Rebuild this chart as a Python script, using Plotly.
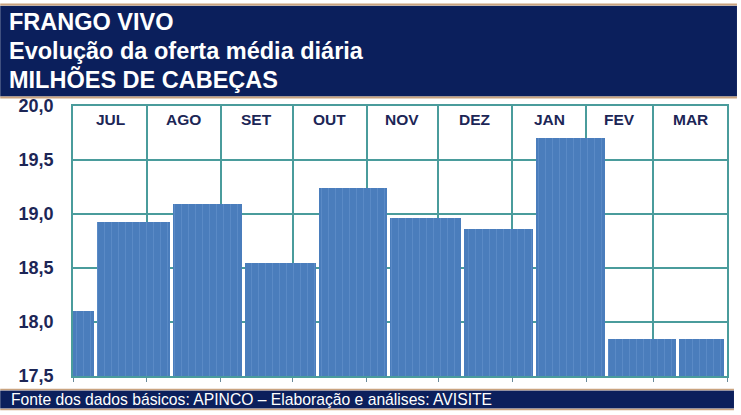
import pandas as pd
import plotly.graph_objects as go

# ---- data ----
months = ["JUL", "AGO", "SET", "OUT", "NOV", "DEZ", "JAN", "FEV", "MAR"]
month_starts = ["2012-07-01", "2012-08-01", "2012-09-01", "2012-10-01", "2012-11-01",
                "2012-12-01", "2013-01-01", "2013-02-01", "2013-03-01", "2013-04-01"]
block_starts = ["2012-07-01", "2012-07-11", "2012-08-12", "2012-09-11", "2012-10-12",
                "2012-11-11", "2012-12-12", "2013-01-11", "2013-02-10", "2013-03-12"]
block_ends = block_starts[1:] + ["2013-04-01"]
block_values = [18.10, 18.93, 19.09, 18.55, 19.24, 18.96, 18.86, 19.70, 17.84, 17.84]
y_ticks = [17.5, 18.0, 18.5, 19.0, 19.5, 20.0]
y_ticktext = ["17,5", "18,0", "18,5", "19,0", "19,5", "20,0"]

title_lines = ["FRANGO VIVO", "Evolução da oferta média diária", "MILHÕES DE CABEÇAS"]
footer_text = "Fonte dos dados básicos: APINCO – Elaboração e análises: AVISITE"

# ---- geometry helpers ----
W, H = 741, 415
L, R, T, B = 73, 12, 105.5, 38.5
PW, PH = W - L - R, H - T - B

def px(xp):
    return (xp - L) / PW

def py(yp):
    return (H - B - yp) / PH

NAVY = "#0b1f5c"
TEAL = "#4a9c9c"
TAN = "#c9a37f"
BAR = "#4a7dbc"
TXT = "#1c2656"

starts = pd.to_datetime(block_starts)
ends = pd.to_datetime(block_ends)
gap_ms = 1.25 * 86400000
durs = [(e - s).total_seconds() * 1000 for s, e in zip(starts, ends)]
widths = [d - gap_ms for d in durs]

fig = go.Figure()
fig.add_trace(go.Bar(
    x=starts, y=block_values, base=0, offset=0, width=widths,
    marker=dict(color=BAR, line=dict(width=0),
                pattern=dict(shape="|", size=7, solidity=0.15,
                             fgcolor="#5a8ac6", bgcolor=BAR, fillmode="replace")),
    hoverinfo="skip",
))

ms = pd.to_datetime(month_starts)
anns = []
for i, m in enumerate(months):
    mid = ms[i] + (ms[i + 1] - ms[i]) / 2
    anns.append(dict(x=mid, y=19.875, xref="x", yref="y", text="<b>" + m + "</b>", showarrow=False,
                     font=dict(family="Liberation Sans", size=15.5, color=TXT),
                     xanchor="center", yanchor="middle"))

for i, t in enumerate(title_lines):
    anns.append(dict(x=px(7), y=py([21, 50, 79][i]), xref="paper", yref="paper",
                     text="<b>" + t + "</b>", showarrow=False, xanchor="left", yanchor="middle",
                     font=dict(family="Liberation Sans", size=23.5, color="white")))
anns.append(dict(x=px(9), y=py(400), xref="paper", yref="paper", text=footer_text,
                 showarrow=False, xanchor="left", yanchor="middle",
                 font=dict(family="Liberation Sans", size=15.7, color="white")))

shapes = [
    dict(type="rect", xref="paper", yref="paper", x0=px(0), x1=px(739), y0=py(5), y1=py(96),
         fillcolor=NAVY, line=dict(width=0), layer="above"),
    dict(type="line", xref="paper", yref="paper", x0=px(0), x1=px(739), y0=py(3.5), y1=py(3.5),
         line=dict(color=TAN, width=2)),
    dict(type="line", xref="paper", yref="paper", x0=px(0), x1=px(739), y0=py(97), y1=py(97),
         line=dict(color=TAN, width=2)),
    dict(type="rect", xref="paper", yref="paper", x0=px(0), x1=px(736), y0=py(391), y1=py(409),
         fillcolor=NAVY, line=dict(width=0), layer="above"),
    dict(type="line", xref="paper", yref="paper", x0=px(0), x1=px(736), y0=py(390), y1=py(390),
         line=dict(color=TAN, width=1.5)),
    dict(type="line", xref="paper", yref="paper", x0=px(0), x1=px(736), y0=py(410), y1=py(410),
         line=dict(color=TAN, width=1.5)),
]

fig.update_layout(
    width=W, height=H, margin=dict(l=L, r=R, t=T, b=B),
    paper_bgcolor="white", plot_bgcolor="white",
    showlegend=False, bargap=0, separators=",.",
    annotations=anns, shapes=shapes,
    xaxis=dict(type="date", range=[month_starts[0], month_starts[-1]],
               tick0=month_starts[0], dtick="M1", showticklabels=False,
               showgrid=True, gridcolor=TEAL, gridwidth=1.5,
               ticks="outside", ticklen=4, tickcolor="#6a8a9a", tickwidth=1,
               showline=True, linecolor=TEAL, linewidth=1.5, mirror=True, zeroline=False),
    yaxis=dict(range=[17.5, 20.0], tickvals=y_ticks,
               ticktext=["<b>" + t + "</b>" for t in y_ticktext],
               showgrid=True, gridcolor=TEAL, gridwidth=1.5,
               showline=True, linecolor=TEAL, linewidth=1.5, mirror=True, zeroline=False,
               ticks="", ticklabelstandoff=14,
               tickfont=dict(family="Liberation Sans", size=18, color=TXT)),
)

fig.write_html("out.html")
